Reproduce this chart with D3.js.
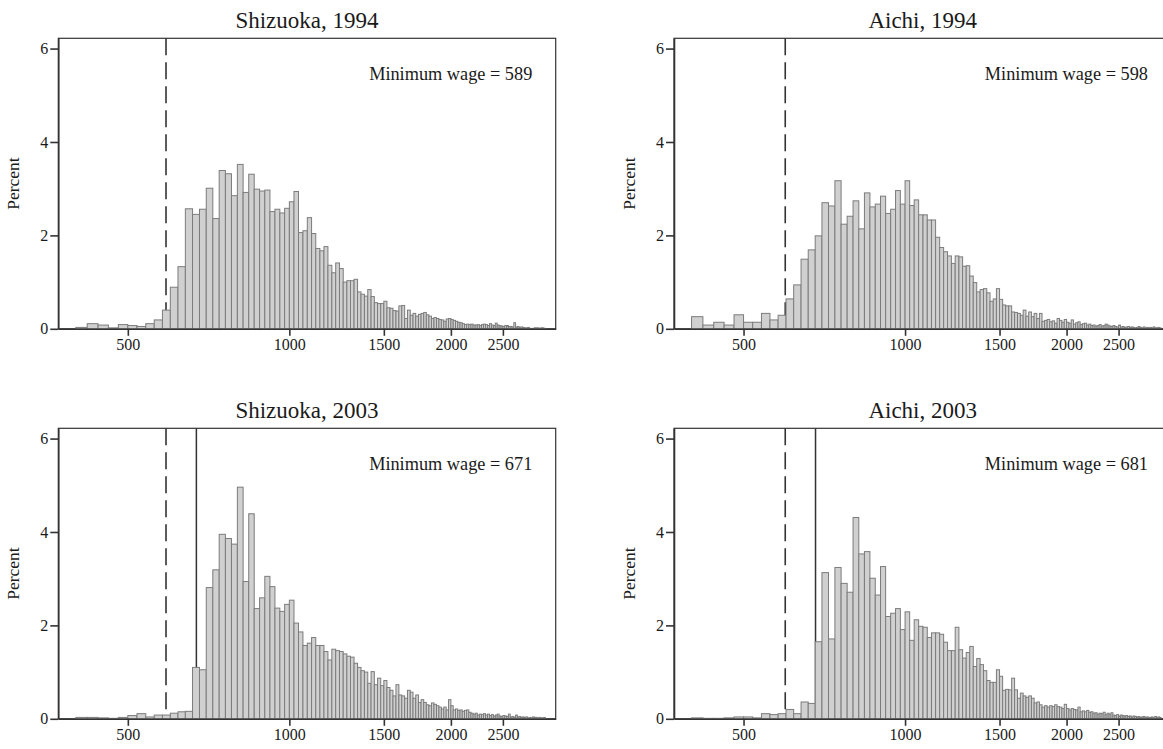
<!DOCTYPE html>
<html>
<head>
<meta charset="utf-8">
<script src="https://cdn.jsdelivr.net/npm/d3@7"></script>
<style>
  body { margin: 0; background: #fff; }
  text { font-family: "Liberation Serif", "Times New Roman", serif; fill: #1a1a1a; }
  .axis path, .axis line { stroke: #333; }
</style>
</head>
<body>
<div id="chart"></div>
<script>
// Histogram bins: 20 yen wide, first bin starts at 400 yen (130 bins up to 3000)
var binStart = 400;
var binWidth = 20;

// Percent of workers in each bin (one row = 200 yen)
var shizuoka1994 = [
  0.03, 0.11, 0.08, 0.02, 0.09, 0.07, 0.05, 0.11, 0.19, 0.40,
  0.89, 1.33, 2.57, 2.45, 2.56, 3.01, 2.36, 3.39, 3.32, 2.85,
  3.52, 2.92, 3.31, 2.99, 2.95, 2.97, 2.51, 2.56, 2.48, 2.58,
  2.72, 2.94, 2.06, 2.10, 2.38, 2.04, 1.72, 1.67, 1.76, 1.36,
  1.20, 1.41, 1.29, 1.00, 1.03, 1.03, 1.06, 0.79, 0.74, 0.70,
  0.84, 0.69, 0.56, 0.54, 0.54, 0.59, 0.45, 0.44, 0.39, 0.38,
  0.49, 0.50, 0.22, 0.40, 0.29, 0.33, 0.27, 0.31, 0.33, 0.35,
  0.30, 0.27, 0.22, 0.24, 0.22, 0.20, 0.19, 0.16, 0.21, 0.22,
  0.20, 0.18, 0.16, 0.14, 0.13, 0.11, 0.09, 0.10, 0.09, 0.10,
  0.08, 0.08, 0.09, 0.07, 0.09, 0.10, 0.09, 0.07, 0.11, 0.08,
  0.07, 0.12, 0.08, 0.07, 0.06, 0.05, 0.07, 0.07, 0.05, 0.05,
  0.04, 0.13, 0.04, 0.05, 0.03, 0.04, 0.03, 0.02, 0.02, 0.03,
  0.01, 0.00, 0.01, 0.02, 0.02, 0.02, 0.01, 0.02, 0.02, 0.01
];

var aichi1994 = [
  0.26, 0.08, 0.14, 0.08, 0.30, 0.14, 0.14, 0.33, 0.19, 0.29,
  0.64, 0.94, 1.49, 1.69, 1.99, 2.70, 2.63, 3.17, 2.24, 2.41,
  2.74, 2.14, 2.91, 2.61, 2.67, 2.84, 2.47, 2.56, 2.96, 2.67,
  3.17, 2.64, 2.76, 2.44, 2.44, 2.33, 2.33, 1.96, 1.74, 1.65,
  1.56, 1.40, 1.56, 1.54, 1.34, 1.35, 1.13, 0.99, 0.79, 0.84,
  0.86, 0.77, 0.59, 0.64, 0.86, 0.63, 0.51, 0.49, 0.49, 0.36,
  0.35, 0.33, 0.29, 0.40, 0.27, 0.36, 0.26, 0.33, 0.22, 0.33,
  0.16, 0.18, 0.20, 0.15, 0.17, 0.12, 0.22, 0.18, 0.14, 0.20,
  0.14, 0.12, 0.19, 0.10, 0.13, 0.15, 0.09, 0.11, 0.12, 0.08,
  0.10, 0.07, 0.08, 0.06, 0.07, 0.09, 0.06, 0.07, 0.10, 0.08,
  0.06, 0.05, 0.07, 0.05, 0.04, 0.08, 0.04, 0.05, 0.03, 0.04,
  0.05, 0.03, 0.04, 0.03, 0.02, 0.03, 0.05, 0.03, 0.02, 0.04,
  0.02, 0.03, 0.02, 0.03, 0.02, 0.04, 0.02, 0.02, 0.03, 0.02
];

var shizuoka2003 = [
  0.03, 0.03, 0.02, 0.01, 0.03, 0.07, 0.11, 0.04, 0.08, 0.08,
  0.12, 0.15, 0.16, 1.10, 1.05, 2.81, 3.19, 3.95, 3.86, 3.74,
  4.96, 2.94, 4.39, 2.36, 2.59, 3.05, 2.83, 2.37, 2.30, 2.45,
  2.54, 2.05, 1.86, 1.57, 1.62, 1.74, 1.57, 1.57, 1.44, 1.26,
  1.49, 1.46, 1.44, 1.39, 1.34, 1.32, 1.19, 1.10, 1.03, 1.00,
  0.76, 1.01, 0.73, 0.87, 0.71, 0.82, 0.67, 0.61, 0.49, 0.73,
  0.51, 0.49, 0.44, 0.61, 0.57, 0.44, 0.51, 0.35, 0.41, 0.35,
  0.30, 0.28, 0.34, 0.31, 0.28, 0.25, 0.21, 0.25, 0.19, 0.41,
  0.28, 0.19, 0.21, 0.18, 0.19, 0.16, 0.18, 0.19, 0.14, 0.12,
  0.10, 0.12, 0.08, 0.10, 0.09, 0.11, 0.08, 0.10, 0.07, 0.09,
  0.06, 0.08, 0.10, 0.06, 0.05, 0.07, 0.06, 0.05, 0.10, 0.04,
  0.05, 0.03, 0.08, 0.04, 0.05, 0.03, 0.04, 0.03, 0.04, 0.02,
  0.03, 0.02, 0.04, 0.03, 0.03, 0.02, 0.03, 0.02, 0.02, 0.03
];

var aichi2003 = [
  0.02, 0.01, 0.01, 0.02, 0.04, 0.04, 0.02, 0.11, 0.09, 0.11,
  0.20, 0.11, 0.36, 0.33, 1.65, 3.13, 1.71, 3.24, 2.90, 2.71,
  4.31, 3.53, 3.58, 3.01, 2.65, 3.26, 2.19, 2.26, 2.36, 1.91,
  2.29, 1.68, 2.12, 1.98, 1.96, 1.74, 1.84, 1.84, 1.81, 1.64,
  1.46, 1.46, 1.96, 1.48, 1.30, 1.42, 1.55, 1.12, 1.29, 1.16,
  1.03, 0.82, 0.78, 0.78, 1.05, 0.91, 0.61, 0.63, 0.62, 0.87,
  0.62, 0.44, 0.55, 0.49, 0.46, 0.49, 0.44, 0.34, 0.36, 0.30,
  0.25, 0.28, 0.25, 0.28, 0.26, 0.30, 0.26, 0.25, 0.22, 0.31,
  0.22, 0.19, 0.22, 0.20, 0.19, 0.25, 0.15, 0.17, 0.15, 0.18,
  0.14, 0.15, 0.12, 0.13, 0.10, 0.12, 0.11, 0.14, 0.09, 0.12,
  0.10, 0.13, 0.08, 0.07, 0.09, 0.06, 0.08, 0.07, 0.06, 0.07,
  0.05, 0.06, 0.04, 0.06, 0.05, 0.04, 0.05, 0.03, 0.04, 0.05,
  0.03, 0.04, 0.03, 0.03, 0.04, 0.02, 0.05, 0.03, 0.04, 0.03
];

// Panel titles and minimum wages (yen per hour)
var titles = ["Shizuoka, 1994", "Aichi, 1994", "Shizuoka, 2003", "Aichi, 2003"];
var minWage = [589, 598, 671, 681];
var minWage1994 = [589, 598, 589, 598];

// Axis ticks
var xTicks = [500, 1000, 1500, 2000, 2500];
var yTicks = [0, 2, 4, 6];

// Size of each plot box and where the boxes sit
var boxWidth = 497.4;
var boxHeight = 290.5;
var boxLefts = [58.3, 674, 58.3, 674];
var boxTops = [38.3, 38.3, 428.3, 428.3];

var fontFamily = '"Liberation Serif", "Times New Roman", serif';

var svgWidth = 1163;
var svgHeight = 749;

var svg = d3
  .select("#chart")
  .append("svg")
  .attr("width", svgWidth)
  .attr("height", svgHeight);

// Log scale for wages, linear scale for percent
var xScale = d3.scaleLog().domain([371, 3136]).range([0, boxWidth]);
var yScale = d3.scaleLinear().domain([0, 6.22]).range([boxHeight, 0]);

var panelData = [shizuoka1994, aichi1994, shizuoka2003, aichi2003];

panelData.forEach(function (values, p) {
  var g = svg
    .append("g")
    .attr("transform", `translate(${boxLefts[p]}, ${boxTops[p]})`);

  // Build bins from the values
  var bins = values.map(function (v, i) {
    return { x0: binStart + i * binWidth, x1: binStart + (i + 1) * binWidth, pct: v };
  });

  // Frame
  g.append("rect")
    .attr("width", boxWidth)
    .attr("height", boxHeight)
    .attr("fill", "none")
    .attr("stroke", "#333")
    .attr("stroke-width", 1.2);

  // 1994 minimum wage: dashed line
  g.append("line")
    .attr("x1", xScale(minWage1994[p]))
    .attr("x2", xScale(minWage1994[p]))
    .attr("y1", 0)
    .attr("y2", boxHeight)
    .attr("stroke", "#333")
    .attr("stroke-width", 1.6)
    .attr("stroke-dasharray", "17,7");

  // 2003 minimum wage: solid line
  if (p >= 2) {
    g.append("line")
      .attr("x1", xScale(minWage[p]))
      .attr("x2", xScale(minWage[p]))
      .attr("y1", 0)
      .attr("y2", boxHeight)
      .attr("stroke", "#333")
      .attr("stroke-width", 1.5);
  }

  // Bars
  g.selectAll("rect.bar")
    .data(bins)
    .enter()
    .append("rect")
    .attr("class", "bar")
    .attr("x", (d) => xScale(d.x0))
    .attr("width", (d) => xScale(d.x1) - xScale(d.x0))
    .attr("y", (d) => yScale(d.pct))
    .attr("height", (d) => yScale(0) - yScale(d.pct))
    .attr("fill", "#d0d0d0")
    .attr("stroke", "#7c7c7c")
    .attr("stroke-width", 1);

  // Axes
  var leftAxis = d3
    .axisLeft(yScale)
    .tickValues(yTicks)
    .tickFormat(d3.format("d"))
    .tickSize(8)
    .tickPadding(2)
    .tickSizeOuter(0);
  var bottomAxis = d3
    .axisBottom(xScale)
    .tickValues(xTicks)
    .tickFormat(d3.format("d"))
    .tickSize(7)
    .tickPadding(3)
    .tickSizeOuter(0);

  var yAxisG = g
    .append("g")
    .attr("class", "axis")
    .call(leftAxis)
    .attr("font-family", fontFamily)
    .attr("font-size", 16);

  var xAxisG = g
    .append("g")
    .attr("class", "axis")
    .attr("transform", `translate(0, ${boxHeight})`)
    .call(bottomAxis)
    .attr("font-family", fontFamily)
    .attr("font-size", 16);

  [yAxisG, xAxisG].forEach(function (a) {
    a.selectAll("path, line").attr("stroke-width", 1.6);
    a.selectAll("text").attr("fill", "#1a1a1a");
  });

  // Y label
  g.append("text")
    .attr("transform", `translate(${-39.5}, ${boxHeight / 2}) rotate(-90)`)
    .attr("text-anchor", "middle")
    .style("font-size", "17.5px")
    .text("Percent");

  // Title
  g.append("text")
    .attr("x", boxWidth / 2)
    .attr("y", -10.6)
    .attr("text-anchor", "middle")
    .style("font-size", "23px")
    .text(titles[p]);

  // Minimum wage note
  g.append("text")
    .attr("x", boxWidth - 23.4)
    .attr("y", 42)
    .attr("text-anchor", "end")
    .style("font-size", "18.3px")
    .text(`Minimum wage = ${minWage[p]}`);
});
</script>
</body>
</html>
